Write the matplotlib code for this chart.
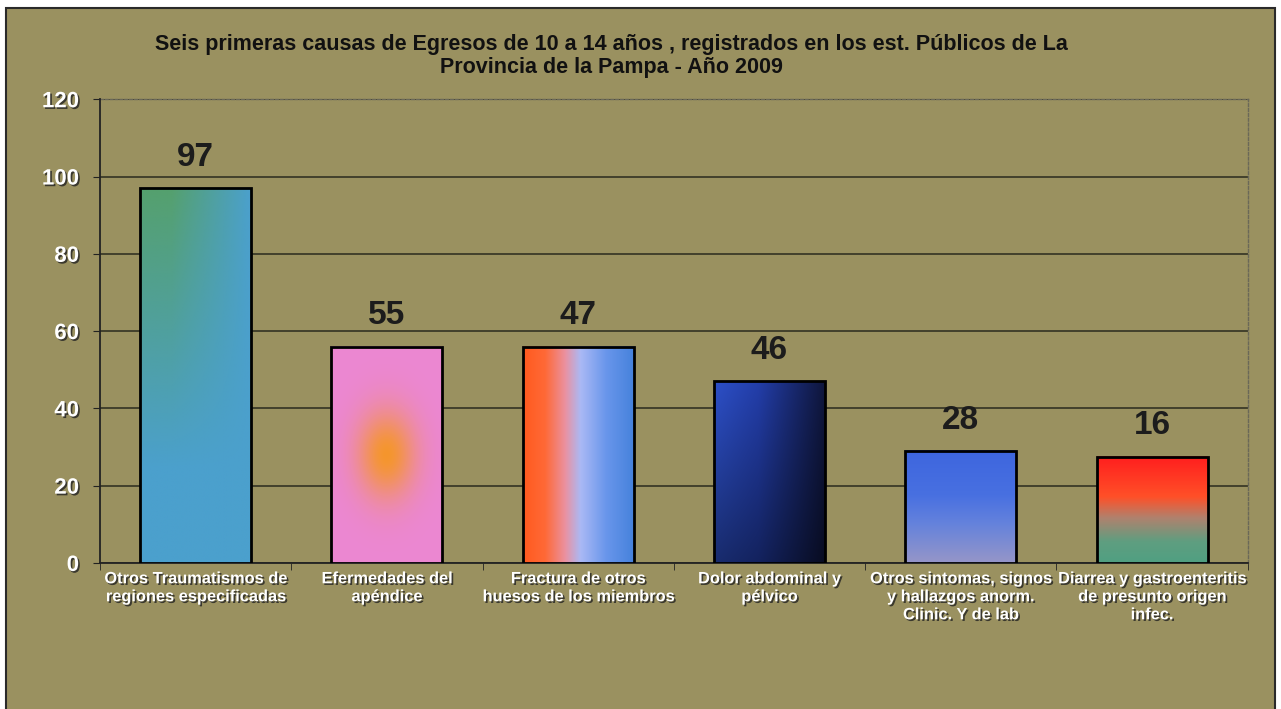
import numpy as np
import matplotlib
matplotlib.use("Agg")
import matplotlib.pyplot as plt
import matplotlib.patheffects as pe
from matplotlib.patches import Rectangle

plt.rcParams["font.family"] = ["Liberation Sans", "DejaVu Sans"]

title = ("Seis primeras causas de Egresos de 10 a 14 años , registrados en los est. Públicos de La\n"
         "Provincia de la Pampa - Año 2009")
categories = [
    "Otros Traumatismos de\nregiones especificadas",
    "Efermedades del\napéndice",
    "Fractura de otros\nhuesos de los miembros",
    "Dolor abdominal y\npélvico",
    "Otros sintomas, signos\ny hallazgos anorm.\nClinic. Y de lab",
    "Diarrea y gastroenteritis\nde presunto origen\ninfec.",
]
# bar heights as drawn in the picture, and the values printed above them
bar_heights = [97, 56, 56, 47, 29, 27.5]
value_labels = ["97", "55", "47", "46", "28", "16"]
y_ticks = [0, 20, 40, 60, 80, 100, 120]

BG = "#9a9160"


def ramp(t, stops):
    pos = np.array([s[0] for s in stops])
    cols = np.array([s[1] for s in stops], dtype=float) / 255.0
    return np.stack([np.interp(t, pos, cols[:, k]) for k in range(3)], axis=-1)


def gradient(kind, n=200):
    x = np.linspace(0, 1, n)[None, :].repeat(n, axis=0)
    y = np.linspace(1, 0, n)[:, None].repeat(n, axis=1)  # 1 at top row
    if kind == 0:
        blue = np.array([75, 160, 205]) / 255.0
        green = np.array([85, 160, 110]) / 255.0
        w = np.clip((1 - x) * 1.4, 0, 1) * np.clip((y - 0.25) / 0.75, 0, 1)
        return blue * (1 - w[..., None]) + green * w[..., None]
    if kind == 1:
        pink = np.array([235, 135, 210]) / 255.0
        orange = np.array([245, 150, 45]) / 255.0
        w = np.exp(-((x - 0.5) / 0.26) ** 2 - ((y - 0.5) / 0.2) ** 2)
        return pink * (1 - w[..., None]) + orange * w[..., None]
    if kind == 2:
        return ramp(x, [(0, (255, 90, 30)), (0.2, (255, 105, 55)), (0.38, (235, 145, 160)),
                        (0.52, (170, 185, 245)), (0.75, (105, 150, 235)), (1, (70, 130, 220))])
    if kind == 3:
        c = ramp(x, [(0, (45, 80, 200)), (0.4, (35, 62, 170)), (1, (15, 22, 60))])
        return c * (0.55 + 0.45 * y[..., None])
    if kind == 4:
        return ramp(y, [(0, (150, 150, 200)), (0.35, (100, 130, 220)), (0.6, (72, 112, 225)), (1, (62, 102, 222))])
    return ramp(y, [(0, (80, 160, 130)), (0.2, (95, 158, 128)), (0.42, (175, 130, 110)),
                    (0.62, (255, 80, 40)), (1, (255, 30, 30))])


fig = plt.figure(figsize=(12.81, 7.09), dpi=100)
fig.patch.set_facecolor("white")
fig.patches.append(Rectangle((6 / 1281, -0.01), 1269 / 1281, 1.0 - 8 / 709 + 0.01,
                             transform=fig.transFigure, facecolor=BG, edgecolor="#2a2a2a",
                             linewidth=1.5, zorder=-5))

ax = fig.add_axes([0.078, 0.206, 0.896, 0.654])
ax.set_facecolor(BG)

x = np.arange(len(categories))
width = 0.58
bars = ax.bar(x, bar_heights, width=width, facecolor="none", edgecolor="black", linewidth=2, zorder=4)
for i, b in enumerate(bars):
    ax.imshow(gradient(i), extent=(b.get_x(), b.get_x() + width, 0, b.get_height()),
              aspect="auto", zorder=3, interpolation="bilinear")
    ax.annotate(value_labels[i], (b.get_x() + width / 2, b.get_height()), xytext=(0, 11),
                textcoords="offset points", ha="center", va="bottom",
                fontsize=24, fontweight="bold", color="#1c1c1c")

ax.set_xlim(-0.5, len(categories) - 0.5)
ax.set_ylim(0, 120)
ax.set_yticks(y_ticks)
ax.set_yticklabels([str(v) for v in y_ticks], fontsize=16, fontweight="bold", color="white")
ax.set_xticks(x)
ax.set_xticklabels(categories, fontsize=11.8, fontweight="bold", color="white", linespacing=1.25)
ax.set_xticks(np.arange(len(categories) + 1) - 0.5, minor=True)
ax.tick_params(axis="x", which="major", length=0, pad=6)
ax.tick_params(axis="x", which="minor", length=5, color="#222222")
ax.tick_params(axis="y", length=5, color="#222222", pad=10)
shadow = [pe.withSimplePatchShadow(offset=(1.2, -1.2), shadow_rgbFace="#222222", alpha=0.8)]
for lab in ax.get_yticklabels() + ax.get_xticklabels():
    lab.set_path_effects(shadow)

ax.grid(axis="y", color="#2a2a1e", linewidth=1.1, zorder=1)
ax.set_axisbelow(True)
for side in ["left", "bottom"]:
    ax.spines[side].set_color("#222222")
    ax.spines[side].set_linewidth(1.3)
for side in ["right", "top"]:
    ax.spines[side].set_color("#6a6858")
    ax.spines[side].set_linewidth(1.0)
    ax.spines[side].set_linestyle((0, (2, 1.5)))
    ax.spines[side].set_zorder(2)

fig.text(0.477, 0.921, title, ha="center", va="center", fontsize=15.5, fontweight="bold",
         color="#111111", linespacing=1.15)

fig.savefig("out.png", dpi=100, facecolor="white")
